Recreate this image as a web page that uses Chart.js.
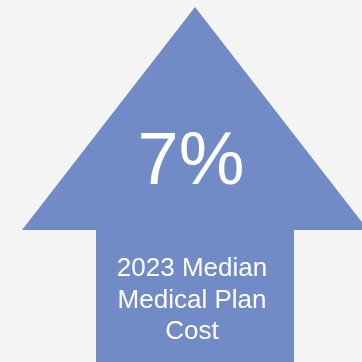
<!DOCTYPE html>
<html>
<head>
<meta charset="utf-8">
<script src="https://cdn.jsdelivr.net/npm/chart.js@4"></script>
<style>
  html, body { margin: 0; padding: 0; background: #f4f4f4; }
  #wrap { width: 362px; height: 362px; }
</style>
</head>
<body>
<div id="wrap"><canvas id="arrow"></canvas></div>
<script>
// arrow outline (in a 0..362 unit box, y grows downward)
const arrowX = [195, 368, 294, 294, 96, 96, 22, 195];
const arrowY = [7, 230, 230, 362, 362, 230, 230, 7];

const headline = "7%";
const labelLines = ["2023 Median", "Medical Plan", "Cost"];

const points = arrowX.map((x, i) => ({ x: x, y: arrowY[i] }));

// text on top of the arrow
const textPlugin = {
  id: "arrowText",
  afterDatasetsDraw(chart) {
    const ctx = chart.ctx;
    const sx = chart.scales.x, sy = chart.scales.y;
    ctx.save();
    ctx.fillStyle = "#ffffff";
    ctx.textAlign = "center";
    ctx.textBaseline = "alphabetic";
    ctx.font = "74px 'Liberation Sans', Arial, sans-serif";
    ctx.fillText(headline, sx.getPixelForValue(191), sy.getPixelForValue(184));
    ctx.font = "26px 'Liberation Sans', Arial, sans-serif";
    labelLines.forEach((line, i) => {
      ctx.fillText(line, sx.getPixelForValue(192), sy.getPixelForValue(276 + i * 31.5));
    });
    ctx.restore();
  }
};

new Chart(document.getElementById("arrow"), {
  type: "scatter",
  data: {
    datasets: [{
      data: points,
      showLine: true,
      fill: "shape",
      backgroundColor: "#718bc6",
      borderColor: "#718bc6",
      borderWidth: 0,
      pointRadius: 0,
      tension: 0
    }]
  },
  options: {
    responsive: true,
    maintainAspectRatio: false,
    animation: false,
    layout: { padding: 0 },
    plugins: { legend: { display: false }, tooltip: { enabled: false } },
    scales: {
      x: { type: "linear", min: 0, max: 362, display: false },
      y: { type: "linear", min: 0, max: 362, reverse: true, display: false }
    }
  },
  plugins: [textPlugin]
});
</script>
</body>
</html>
